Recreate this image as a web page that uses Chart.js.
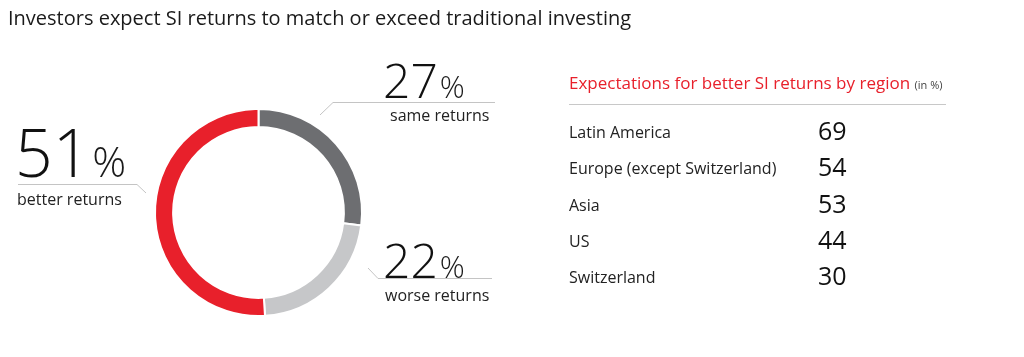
<!DOCTYPE html>
<html>
<head>
<meta charset="utf-8">
<script src="https://cdn.jsdelivr.net/npm/chart.js@4/dist/chart.umd.min.js"></script>
<style>
  html, body { margin: 0; padding: 0; background: #fff; }
  body { width: 1024px; height: 357px; position: relative; overflow: hidden; font-family: "Open Sans", "Noto Sans", sans-serif; color: #1a1a1a; }
  #wrap { position: absolute; left: 0; top: 0; width: 1024px; height: 357px; }
  .abs { position: absolute; white-space: nowrap; line-height: 1; }
  #title { left: 8px; top: 8px; font-size: 20px; color: #1a1a1a; }
  .big { font-weight: 300; color: #111; }
  .pct { font-weight: 300; }
  .lbl { font-size: 16px; color: #222; }
  #tblhead { left: 569px; top: 74px; font-size: 17px; color: #e8202b; }
  #tblhead small { font-size: 11px; color: #444; }
  #rule { position: absolute; left: 569px; top: 104px; width: 377px; height: 0; border-top: 1px solid #c8c8c8; }
  .rname { position: absolute; left: 569px; font-size: 16px; color: #222; white-space: nowrap; line-height: 1; }
  .rval { position: absolute; left: 818px; font-size: 25px; font-weight: 400; color: #111; white-space: nowrap; line-height: 1; }
</style>
</head>
<body>
<div id="wrap"><canvas id="c" width="1024" height="357"></canvas></div>
<div id="title" class="abs"></div>
<div id="lab51" class="abs"></div>
<div id="lab27" class="abs"></div>
<div id="lab22" class="abs"></div>
<div id="tblhead" class="abs"></div>
<div id="rule"></div>
<div id="rows"></div>
<script>
const titleText = "Investors expect SI returns to match or exceed traditional investing";
const sliceLabels = ["same returns", "worse returns", "better returns"];
const sliceValues = [27, 22, 51];
const sliceColors = ["#6d6e71", "#c6c7c9", "#e8202b"];
const tableTitle = "Expectations for better SI returns by region";
const tableUnit = "(in %)";
const regions = ["Latin America", "Europe (except Switzerland)", "Asia", "US", "Switzerland"];
const regionValues = [69, 54, 53, 44, 30];

document.getElementById('title').textContent = titleText;
document.getElementById('tblhead').innerHTML = tableTitle + ' <small>' + tableUnit + '</small>';

function bigLabel(id, value, label, left, top, numSize, pctSize, lblLeft, lblTop) {
  const el = document.getElementById(id);
  el.style.left = left + 'px';
  el.style.top = top + 'px';
  el.innerHTML = '<span class="big" style="font-size:' + numSize + 'px">' + value +
    '</span><span class="pct" style="font-size:' + pctSize + 'px;margin-left:2px">%</span>' +
    '<div class="lbl" style="position:absolute;left:' + lblLeft + 'px;top:' + lblTop + 'px">' + label + '</div>';
}
bigLabel('lab51', sliceValues[2], sliceLabels[2], 15, 118, 66, 42, 2, 73);
bigLabel('lab27', sliceValues[0], sliceLabels[0], 383, 56, 48, 31, 7, 51);
bigLabel('lab22', sliceValues[1], sliceLabels[1], 383, 236, 48, 31, 2, 51);

const rowsEl = document.getElementById('rows');
regions.forEach((r, i) => {
  const y = 124 + i * 36.3;
  const n = document.createElement('div');
  n.className = 'rname'; n.style.top = y + 'px'; n.textContent = r;
  const v = document.createElement('div');
  v.className = 'rval'; v.style.top = (y - 6) + 'px'; v.textContent = regionValues[i];
  rowsEl.appendChild(n); rowsEl.appendChild(v);
});

const leaders = {
  id: 'leaders',
  afterDraw(chart) {
    const ctx = chart.ctx;
    ctx.save();
    ctx.strokeStyle = '#c4c4c4';
    ctx.lineWidth = 1;
    const segs = [
      [[18, 184.5], [137, 184.5], [146, 193]],
      [[320, 115], [333, 102.5], [495, 102.5]],
      [[368, 268], [378, 278.5], [492, 278.5]]
    ];
    segs.forEach(s => {
      ctx.beginPath();
      ctx.moveTo(s[0][0], s[0][1]);
      for (let i = 1; i < s.length; i++) ctx.lineTo(s[i][0], s[i][1]);
      ctx.stroke();
    });
    ctx.restore();
  }
};

new Chart(document.getElementById('c'), {
  type: 'doughnut',
  data: {
    labels: sliceLabels,
    datasets: [{
      data: sliceValues,
      backgroundColor: sliceColors,
      borderColor: '#ffffff',
      borderWidth: 2,
      hoverOffset: 0
    }]
  },
  options: {
    responsive: false,
    animation: false,
    cutout: '82.5%',
    rotation: 0,
    layout: { padding: { left: 154, top: 108, right: 661, bottom: 40 } },
    plugins: { legend: { display: false }, tooltip: { enabled: false }, title: { display: false } }
  },
  plugins: [leaders]
});
</script>
</body>
</html>
